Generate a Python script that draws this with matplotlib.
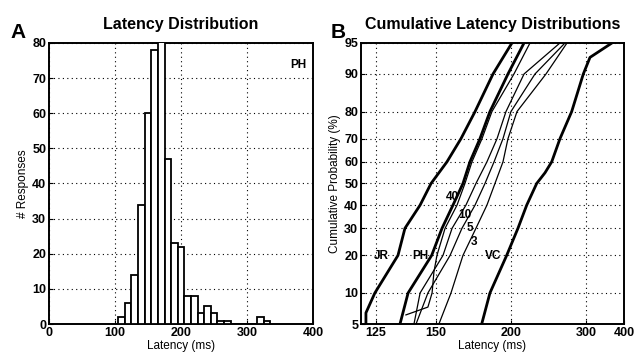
import numpy as np
import matplotlib
matplotlib.use("Agg")
import matplotlib.pyplot as plt
from statistics import NormalDist

plt.rcParams['font.family'] = ['Liberation Sans', 'DejaVu Sans']

# Latency histogram for PH: bin centres (ms) and number of responses
bin_centres = [110, 120, 130, 140, 150, 160, 170, 180, 190, 200, 210, 220,
               230, 240, 250, 260, 270, 280, 290, 300, 310, 320, 330]
counts = [2, 6, 14, 34, 60, 78, 86, 47, 23, 22, 8, 8,
          3, 5, 3, 1, 1, 0, 0, 0, 0, 2, 1]

# Cumulative distributions: percentile (%) and latency (ms) for each series
jr_pct = [5, 6.5, 10, 20, 30, 40, 50, 60, 70, 80, 90, 95]
jr_ms = [121.6, 121.6, 124.6, 133.1, 135.9, 142.4, 147.5, 155.6, 163.5, 172.3, 185.0, 200.6]

ph_pct = [5, 10, 20, 30, 40, 50, 60, 70, 80, 90, 95]
ph_ms = [133.9, 137.2, 147.8, 153.0, 158.9, 164.7, 169.0, 175.6, 182.7, 197.1, 212.0]

vc_pct = [5, 10, 20, 30, 40, 50, 55, 60, 70, 80, 90, 93, 95]
vc_ms = [176.8, 182.7, 196.0, 206.1, 214.7, 225.4, 235.2, 243.7, 255.1, 273.2, 293.9, 307.3, 361.5]

s40_pct = [6.2, 7.4, 10, 15, 20, 30, 40, 50, 60, 70, 80, 90, 95]
s40_ms = [136.3, 146.0, 148.0, 148.9, 150.4, 154.6, 161.2, 165.9, 170.3, 177.0, 184.2, 202.4, 218.1]

s10_pct = [5, 10, 20, 30, 40, 50, 60, 70, 80, 90, 95]
s10_ms = [139.7, 142.4, 153.5, 158.4, 166.5, 172.9, 180.5, 188.1, 195.4, 212.0, 255.1]

s5_pct = [5, 10, 20, 30, 40, 50, 60, 70, 80, 90, 95]
s5_ms = [140.6, 146.0, 157.3, 164.1, 172.3, 179.1, 185.8, 192.9, 199.7, 223.5, 262.6]

s3_pct = [5, 10, 20, 30, 40, 50, 60, 70, 80, 90, 95]
s3_ms = [151.4, 157.8, 164.7, 172.9, 180.5, 186.5, 192.9, 197.1, 205.2, 236.4, 265.7]

prob_ticks = [5, 10, 20, 30, 40, 50, 60, 70, 80, 90, 95]
lat_ticks = [125, 150, 200, 300, 400]

nd = NormalDist()
_ppf = np.vectorize(lambda p: nd.inv_cdf(min(max(p / 100.0, 1e-9), 1 - 1e-9)), otypes=[float])
_cdf = np.vectorize(lambda z: 100.0 * nd.cdf(z), otypes=[float])


def probit(p):
    return _ppf(np.asarray(p, dtype=float))


def probit_inv(z):
    return _cdf(np.asarray(z, dtype=float))


def recip(x):
    x = np.asarray(x, dtype=float)
    return -1.0 / np.where(x > 1e-9, x, 1e-9)


def recip_inv(y):
    y = np.asarray(y, dtype=float)
    return -1.0 / np.where(y < -1e-12, y, -1e-12)


fig = plt.figure(figsize=(6.37, 3.54), dpi=100)
axA = fig.add_axes([0.0769, 0.0847, 0.4145, 0.794])
axB = fig.add_axes([0.5667, 0.0847, 0.4129, 0.794])

grid_kw = dict(color='black', linestyle=(0, (1, 3)), linewidth=0.8)

# Panel A: histogram
axA.bar(bin_centres, counts, width=10, color='white', edgecolor='black',
        linewidth=1.3, zorder=3)
axA.set_xlim(0, 400)
axA.set_ylim(0, 80)
axA.set_xticks([0, 100, 200, 300, 400])
axA.set_yticks(range(0, 81, 10))
axA.grid(True, **grid_kw)
axA.set_axisbelow(True)
axA.text(377, 73.7, 'PH', ha='center', va='center', fontsize=8.5, fontweight='bold')
axA.set_title('Latency Distribution', fontsize=11.5, fontweight='bold', pad=10)
axA.set_xlabel('Latency (ms)', fontsize=8.5, labelpad=1)
axA.set_ylabel('# Responses', fontsize=8.5)
axA.yaxis.set_label_coords(-0.075, 0.5)

# Panel B: reciprobit plot of cumulative latency distributions
axB.set_xscale('function', functions=(recip, recip_inv))
axB.set_yscale('function', functions=(probit, probit_inv))

thick = 2.0
thin = 0.9
axB.plot(jr_ms, jr_pct, color='black', linewidth=thick, zorder=3)
axB.plot(ph_ms, ph_pct, color='black', linewidth=thick, zorder=3)
axB.plot(vc_ms, vc_pct, color='black', linewidth=thick, zorder=3)
axB.plot(s40_ms, s40_pct, color='black', linewidth=thin, zorder=3)
axB.plot(s10_ms, s10_pct, color='black', linewidth=thin, zorder=3)
axB.plot(s5_ms, s5_pct, color='black', linewidth=thin, zorder=3)
axB.plot(s3_ms, s3_pct, color='black', linewidth=thin, zorder=3)

axB.set_xlim(120, 400)
axB.set_ylim(5, 95)
axB.set_xticks(lat_ticks)
axB.set_xticklabels([str(t) for t in lat_ticks])
axB.set_yticks(prob_ticks)
axB.set_yticklabels([str(t) for t in prob_ticks])
axB.minorticks_off()
axB.grid(True, **grid_kw)
axB.set_axisbelow(True)

# series labels
lab_kw = dict(ha='center', va='center', fontsize=8.5, fontweight='bold', zorder=4)
axB.text(126.8, 19.8, 'JR', **lab_kw)
axB.text(142.6, 19.8, 'PH', **lab_kw)
axB.text(185.2, 19.8, 'VC', **lab_kw)
axB.text(158.6, 43.9, '40', **lab_kw)
axB.text(165.9, 35.6, '10', **lab_kw)
axB.text(169.0, 30.0, '5', **lab_kw)
axB.text(171.8, 24.8, '3', **lab_kw)

axB.set_title('Cumulative Latency Distributions', fontsize=11.5, fontweight='bold', pad=10)
axB.set_xlabel('Latency (ms)', fontsize=8.5, labelpad=1)
axB.set_ylabel('Cumulative Probability (%)', fontsize=8.5)
axB.yaxis.set_label_coords(-0.075, 0.5)

for ax in (axA, axB):
    ax.tick_params(direction='in', length=3, width=0.8, labelsize=9, pad=2)
    for lbl in ax.get_xticklabels() + ax.get_yticklabels():
        lbl.set_fontweight('bold')
    for sp in ax.spines.values():
        sp.set_linewidth(1.4)

fig.text(18 / 637, 1 - 42 / 354, 'A', ha='center', va='bottom', fontsize=15, fontweight='bold')
fig.text(338 / 637, 1 - 42 / 354, 'B', ha='center', va='bottom', fontsize=15, fontweight='bold')

fig.savefig('out.png', dpi=100)
